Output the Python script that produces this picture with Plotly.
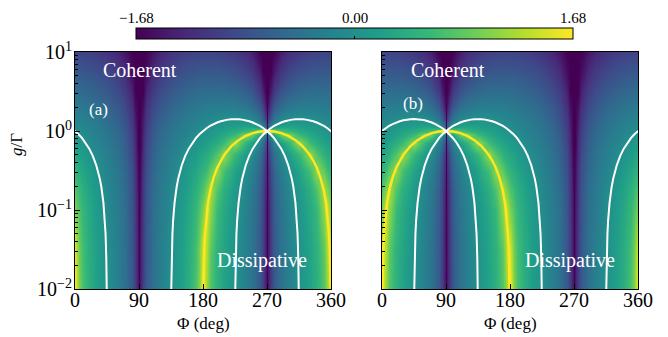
import numpy as np
import plotly.graph_objects as go

# ---------------- data ----------------
# Heat-map grid for panel (a), fundamental half period Phi in [90, 270] deg
# (the map is mirror-symmetric about 90 and 270 deg).
phi_half = [90, 92, 95, 100, 110, 120, 135, 150, 160, 170, 175, 180,
            185, 190, 200, 210, 225, 240, 250, 260, 265, 268, 270]
log_g_rows = [-2, -1.5, -1, -0.75, -0.5, -0.3, -0.15, -0.05, 0,
              0.05, 0.15, 0.3, 0.5, 0.75, 1]
z_half_a = [
    [-1.68, -1.46, -1.06, -0.76, -0.44, -0.24, 0.00, 0.23, 0.43, 0.73, 1.01, 1.68, 1.11, 0.78, 0.45, 0.25, 0.01, -0.23, -0.43, -0.75, -1.05, -1.45, -1.68],
    [-1.68, -1.47, -1.07, -0.77, -0.45, -0.25, -0.02, 0.21, 0.40, 0.68, 0.92, 1.50, 1.25, 0.84, 0.48, 0.27, 0.02, -0.22, -0.42, -0.74, -1.04, -1.44, -1.68],
    [-1.68, -1.50, -1.10, -0.80, -0.48, -0.29, -0.06, 0.16, 0.33, 0.56, 0.73, 1.00, 1.50, 1.13, 0.59, 0.34, 0.07, -0.19, -0.39, -0.71, -1.01, -1.41, -1.68],
    [-1.68, -1.53, -1.13, -0.83, -0.51, -0.32, -0.10, 0.11, 0.26, 0.45, 0.58, 0.75, 1.04, 1.30, 0.76, 0.43, 0.13, -0.14, -0.35, -0.67, -0.97, -1.37, -1.68],
    [-1.68, -1.58, -1.18, -0.87, -0.57, -0.37, -0.16, 0.03, 0.16, 0.30, 0.39, 0.50, 0.64, 0.84, 1.15, 0.67, 0.26, -0.04, -0.26, -0.59, -0.89, -1.29, -1.68],
    [-1.68, -1.63, -1.24, -0.93, -0.63, -0.44, -0.23, -0.06, 0.05, 0.16, 0.23, 0.30, 0.38, 0.48, 0.77, 1.15, 0.54, 0.14, -0.11, -0.45, -0.76, -1.16, -1.68],
    [-1.68, -1.68, -1.29, -0.99, -0.68, -0.50, -0.30, -0.15, -0.05, 0.05, 0.10, 0.15, 0.21, 0.27, 0.41, 0.62, 1.15, 0.50, 0.17, -0.20, -0.52, -0.92, -1.68],
    [-1.68, -1.68, -1.34, -1.03, -0.73, -0.55, -0.35, -0.21, -0.12, -0.03, 0.01, 0.05, 0.09, 0.14, 0.23, 0.35, 0.59, 1.10, 0.85, 0.27, -0.08, -0.49, -1.68],
    [-1.68, -1.68, -1.36, -1.06, -0.75, -0.57, -0.38, -0.24, -0.16, -0.08, -0.04, 0.00, 0.04, 0.08, 0.16, 0.24, 0.38, 0.57, 0.75, 1.06, 1.36, 1.68, -1.68],
    [-1.68, -1.68, -1.39, -1.08, -0.78, -0.60, -0.41, -0.27, -0.19, -0.12, -0.08, -0.05, -0.02, 0.02, 0.08, 0.14, 0.23, 0.29, 0.27, 0.10, -0.16, -0.55, -1.68],
    [-1.68, -1.68, -1.44, -1.14, -0.84, -0.66, -0.48, -0.34, -0.27, -0.21, -0.18, -0.15, -0.12, -0.10, -0.06, -0.02, 0.00, -0.04, -0.14, -0.39, -0.68, -1.07, -1.68],
    [-1.68, -1.68, -1.54, -1.23, -0.93, -0.76, -0.58, -0.46, -0.40, -0.34, -0.32, -0.30, -0.28, -0.27, -0.25, -0.24, -0.26, -0.35, -0.49, -0.76, -1.06, -1.46, -1.68],
    [-1.68, -1.68, -1.68, -1.38, -1.08, -0.91, -0.74, -0.63, -0.57, -0.53, -0.51, -0.50, -0.49, -0.48, -0.48, -0.49, -0.54, -0.66, -0.81, -1.10, -1.40, -1.68, -1.68],
    [-1.68, -1.68, -1.68, -1.58, -1.28, -1.11, -0.95, -0.85, -0.80, -0.77, -0.76, -0.75, -0.75, -0.74, -0.75, -0.77, -0.84, -0.98, -1.14, -1.43, -1.68, -1.68, -1.68],
    [-1.68, -1.68, -1.68, -1.68, -1.50, -1.34, -1.18, -1.08, -1.04, -1.01, -1.01, -1.00, -1.00, -1.00, -1.01, -1.04, -1.12, -1.26, -1.42, -1.68, -1.68, -1.68, -1.68],
]

# Yellow ridge of panel (a) (Phi in deg, g/Gamma)
ridge_phi_a = [180.6, 181, 182, 183, 185, 187, 190, 195, 200, 205, 210, 220, 230, 240, 250, 260, 270,
               280, 290, 300, 310, 320, 330, 335, 340, 345, 350, 353, 355, 357, 358, 359, 359.4]
ridge_g = [0.0105, 0.0175, 0.0349, 0.0523, 0.0872, 0.122, 0.174, 0.259, 0.342, 0.423, 0.5, 0.643, 0.766, 0.866, 0.94, 0.985, 1.0,
           0.985, 0.94, 0.866, 0.766, 0.643, 0.5, 0.423, 0.342, 0.259, 0.174, 0.122, 0.0872, 0.0523, 0.0349, 0.0175, 0.0105]

# White zero-level curve (one arch, centred on 225 deg in panel a)
arc_phi = [135.4, 136, 137, 138, 140, 143, 145, 150, 155, 160, 165, 170, 175, 180, 185, 190, 195, 200,
           205, 210, 215, 220, 225, 230, 235, 240, 245, 250, 255, 260, 265, 270, 275, 280, 285, 290,
           295, 300, 305, 307, 310, 312, 313, 314, 314.6]
arc_g = [0.0099, 0.0247, 0.0494, 0.074, 0.123, 0.197, 0.246, 0.366, 0.484, 0.598, 0.707, 0.811, 0.909,
         1.0, 1.083, 1.159, 1.225, 1.282, 1.329, 1.366, 1.393, 1.409, 1.414, 1.409, 1.393, 1.366, 1.329,
         1.282, 1.225, 1.159, 1.083, 1.0, 0.909, 0.811, 0.707, 0.598, 0.484, 0.366, 0.246, 0.197, 0.123,
         0.074, 0.0494, 0.0247, 0.0099]
arc_shift_a = [0, 90, -270]
arc_shift_b = [-180, -90, 180]
ridge_shift_b = -180

phi_ticks = [0, 90, 180, 270, 360]
g_tick_exp = [-2, -1, 0, 1]
g_tick_text = ["10<sup>\u22122</sup>", "10<sup>\u22121</sup>", "10<sup>0</sup>", "10<sup>1</sup>"]
cbar_ticks = [-1.68, 0.0, 1.68]
cbar_text = ["\u22121.68", "0.00", "1.68"]

# ---------------- build the full tables ----------------
def full_table(x_half, rows):
    left = [(180 - c, i) for i, c in reversed(list(enumerate(x_half))) if 90 < c <= 180]
    mid = [(c, i) for i, c in enumerate(x_half)]
    right = [(540 - c, i) for i, c in reversed(list(enumerate(x_half))) if 180 <= c < 270]
    cols = left + mid + right
    x = [p for p, _ in cols]
    z = [[row[i] for _, i in cols] for row in rows]
    return x, z

xa, za = full_table(phi_half, z_half_a)
z_half_b = [list(reversed(r)) for r in z_half_a]   # panel (b) = panel (a) shifted by 180 deg
xb, zb = full_table(phi_half, z_half_b)

W, H = 668, 337
FONT = "Liberation Serif, Times New Roman, Times, serif"
def fx(p): return p / W
def fy(p): return 1 - p / H

fig = go.Figure()
fig.add_trace(go.Heatmap(x=xa, y=log_g_rows, z=za, coloraxis="coloraxis", zsmooth="best",
                         xaxis="x", yaxis="y", hoverinfo="skip"))
fig.add_trace(go.Heatmap(x=xb, y=log_g_rows, z=zb, coloraxis="coloraxis", zsmooth="best",
                         xaxis="x2", yaxis="y2", hoverinfo="skip"))

log_arc = list(np.log10(arc_g))
log_ridge = list(np.log10(ridge_g))
for xs, ys, shifts, rshift in (("x", "y", arc_shift_a, 0), ("x2", "y2", arc_shift_b, ridge_shift_b)):
    fig.add_trace(go.Scatter(x=[p + rshift for p in ridge_phi_a], y=log_ridge, mode="lines",
                             line=dict(color="#fde725", width=2.4), xaxis=xs, yaxis=ys,
                             hoverinfo="skip", showlegend=False))
    for s in shifts:
        fig.add_trace(go.Scatter(x=[p + s for p in arc_phi], y=log_arc, mode="lines",
                                 line=dict(color="white", width=2), xaxis=xs, yaxis=ys,
                                 hoverinfo="skip", showlegend=False))

minor_vals = [float(np.log10(m) + e) for e in (-2, -1, 0) for m in range(2, 10)]
axis_common = dict(showline=True, mirror=True, linecolor="black", linewidth=1.2,
                   ticks="inside", ticklen=5, tickcolor="black", showgrid=False, zeroline=False,
                   automargin=False,
                   tickfont=dict(family=FONT, size=20, color="black"))
xcommon = dict(axis_common, range=[0, 360], tickmode="array", tickvals=phi_ticks,
               ticklabelstandoff=-7)
ycommon = dict(axis_common, range=[-2, 1], tickmode="array", tickvals=g_tick_exp, ticktext=g_tick_text,
               ticklabelstandoff=-2,
               minor=dict(tickmode="array", tickvals=minor_vals, ticks="inside", ticklen=3,
                          tickcolor="black", showgrid=False))

fig.update_layout(
    width=W, height=H, margin=dict(l=0, r=0, t=0, b=0, autoexpand=False),
    paper_bgcolor="white", plot_bgcolor="white", showlegend=False,
    xaxis=dict(xcommon, domain=[fx(75), fx(331)], anchor="y"),
    xaxis2=dict(xcommon, domain=[fx(382), fx(638)], anchor="y2"),
    yaxis=dict(ycommon, domain=[fy(289), fy(52)], anchor="x"),
    yaxis2=dict(ycommon, domain=[fy(289), fy(52)], anchor="x2", showticklabels=False),
    coloraxis=dict(colorscale="Viridis", cmin=-1.68, cmax=1.68,
                   colorbar=dict(orientation="h", x=fx(354.5), xanchor="center",
                                 y=fy(27.7), yanchor="top", len=437 / W, lenmode="fraction",
                                 thickness=11, thicknessmode="pixels", xpad=0, ypad=0,
                                 outlinewidth=1, outlinecolor="black",
                                 tickmode="array", tickvals=cbar_ticks,
                                 ticks="inside", ticklen=3, tickcolor="black",
                                 showticklabels=False)),
)

def ann(text, x, y, size, color="white", angle=0):
    fig.add_annotation(text=text, x=fx(x), y=fy(y), xref="paper", yref="paper", showarrow=False,
                       xanchor="center", yanchor="middle", textangle=angle,
                       font=dict(family=FONT, size=size, color=color))

# colour-bar tick labels (drawn above the bar, as in the reference)
for v, t in zip(cbar_ticks, cbar_text):
    ann(t, 136 + (v - cbar_ticks[0]) / (cbar_ticks[-1] - cbar_ticks[0]) * 437, 18, 15, color="black")

ann("Coherent", 140, 70, 20)
ann("Coherent", 448, 70, 20)
ann("(a)", 98, 110, 17)
ann("(b)", 413, 103, 17)
ann("Dissipative", 262, 260, 20)
ann("Dissipative", 570, 260, 20)
ann("\u03a6 (deg)", 203, 323, 17, color="black")
ann("\u03a6 (deg)", 510, 323, 17, color="black")
ann("<i>g</i>/\u0393", 16, 145, 17, color="black", angle=-90)

fig.write_html("out.html")
